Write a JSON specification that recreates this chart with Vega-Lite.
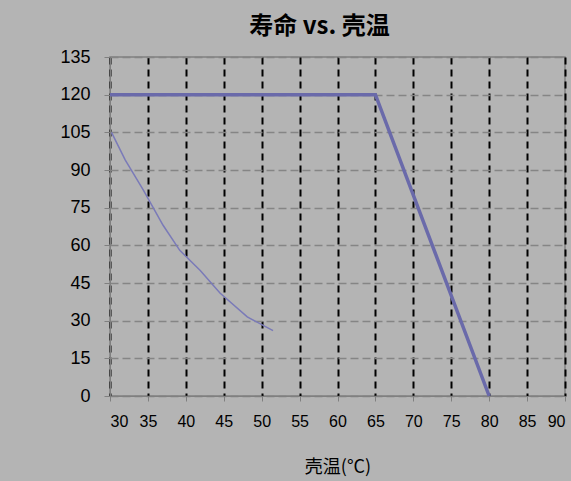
{
  "$schema": "https://vega.github.io/schema/vega-lite/v6.json",
  "width": 455,
  "height": 339,
  "padding": {"left": 10, "top": 15, "right": 6, "bottom": 5},
  "background": "#b4b4b4",
  "title": {"text": "寿命 vs. 壳温", "font": "Noto Sans CJK SC", "fontSize": 24, "fontWeight": "bold", "color": "#000000", "anchor": "middle", "offset": 9, "dx": -18},
  "config": {
    "view": {"stroke": "#808080", "strokeWidth": 1.5, "fill": "#b4b4b4"},
    "axis": {"labelFont": "Liberation Sans", "labelColor": "#000000", "domainColor": "#808080", "tickColor": "#808080", "titleFont": "Noto Sans CJK SC", "titleColor": "#000000", "labelOverlap": false}
  },
  "datasets": {
    "limit": [
      {"t": 30, "life": 120},
      {"t": 65, "life": 120},
      {"t": 80, "life": 0}
    ],
    "curve": [
      {"t": 30.2, "life": 105},
      {"t": 32, "life": 94},
      {"t": 34.4, "life": 82},
      {"t": 37, "life": 68},
      {"t": 39.2, "life": 58},
      {"t": 41.9, "life": 50},
      {"t": 44.5, "life": 41},
      {"t": 48.1, "life": 31.5},
      {"t": 51.5, "life": 26}
    ]
  },
  "encoding": {
    "x": {"field": "t", "type": "quantitative", "scale": {"domain": [30, 90], "nice": false},
      "axis": {"values": [30,35,40,45,50,55,60,65,70,75,80,85,90], "title": "壳温(°C)", "titleFontSize": 18, "titleFontWeight": "normal", "titlePadding": 29, "labelFontSize": 16, "labelPadding": 12, "tickSize": 5,
        "grid": true, "gridColor": "#000000", "gridDash": [7, 5], "gridWidth": 2}},
    "y": {"field": "life", "type": "quantitative", "scale": {"domain": [0, 135], "nice": false},
      "axis": {"values": [0,15,30,45,60,75,90,105,120,135], "title": null, "labelFontSize": 18, "labelPadding": 14, "tickSize": 6, "minExtent": 100, "maxExtent": 100,
        "grid": true, "gridColor": "#858585", "gridDash": [8, 4], "gridWidth": 1.5}}
  },
  "layer": [
    {
      "data": {"name": "curve"},
      "mark": {"type": "line", "color": "#7a7ab8", "strokeWidth": 1.5}
    },
    {
      "data": {"name": "limit"},
      "mark": {"type": "line", "color": "#6a6aaa", "strokeWidth": 3.5}
    }
  ]
}
